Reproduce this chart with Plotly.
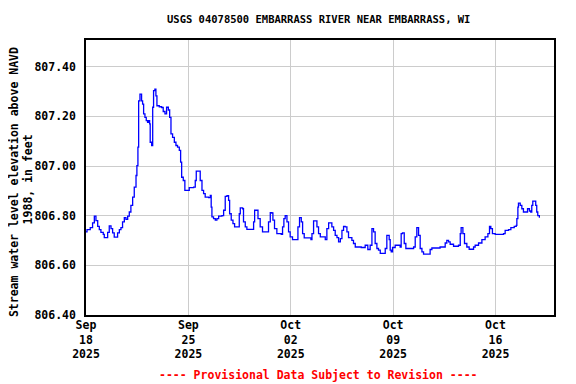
import pandas as pd
import plotly.graph_objects as go

# Days since 2025-09-18 00:00
days = [0.00, 0.07, 0.23, 0.29, 0.45, 0.57, 0.68, 0.80, 0.91, 1.02, 1.18, 1.25, 1.41, 1.48, 1.59, 1.71, 1.82, 1.93, 2.05,
        2.16, 2.28, 2.39, 2.50, 2.62, 2.73, 2.85, 2.96, 3.07, 3.19, 3.30, 3.42, 3.48, 3.55, 3.60, 3.69, 3.80, 3.87, 3.94,
        4.03, 4.12, 4.21, 4.28, 4.35, 4.39, 4.49, 4.56, 4.62, 4.71, 4.78, 4.85, 5.01, 5.17, 5.28, 5.40, 5.51, 5.63, 5.72,
        5.81, 5.92, 6.04, 6.15, 6.26, 6.38, 6.47, 6.54, 6.65, 6.76, 6.95, 7.06, 7.36, 7.47, 7.54, 7.70, 7.81, 7.93, 8.04,
        8.15, 8.38, 8.50, 8.56, 8.61, 8.72, 8.84, 8.95, 9.07, 9.29, 9.41, 9.52, 9.64, 9.75, 9.82, 9.93, 10.05, 10.16,
        10.39, 10.48, 10.55, 10.71, 10.77, 10.89, 11.00, 11.34, 11.46, 11.53, 11.69, 11.76, 11.91, 12.07, 12.37, 12.48,
        12.60, 12.71, 12.78, 12.89, 13.05, 13.35, 13.44, 13.53, 13.62, 13.74, 13.85, 13.96, 14.12, 14.42, 14.49, 14.60,
        14.72, 14.81, 14.92, 15.38, 15.45, 15.56, 15.67, 15.79, 15.90, 16.02, 16.36, 16.47, 16.59, 16.70, 16.81, 16.93,
        17.04, 17.16, 17.27, 17.39, 17.50, 17.61, 17.72, 17.84, 17.95, 18.18, 18.29, 18.41, 18.82, 19.09, 19.27, 19.43,
        19.55, 19.66, 19.77, 19.89, 20.00, 20.12, 20.34, 20.46, 20.57, 20.73, 20.80, 20.87, 20.96, 21.14, 21.48, 21.55,
        21.64, 21.76, 21.87, 22.40, 22.51, 22.62, 22.74, 22.85, 22.97, 23.08, 23.47, 23.53, 23.65, 24.10, 24.21, 24.44,
        24.56, 24.67, 24.79, 24.90, 25.13, 25.47, 25.59, 25.65, 25.77, 25.88, 26.04, 26.20, 26.43, 26.50, 26.61, 26.84,
        27.07, 27.29, 27.48, 27.59, 27.68, 27.79, 27.98, 28.32, 28.55, 28.66, 28.89, 29.05, 29.28, 29.42, 29.46, 29.53,
        29.57, 29.69, 29.80, 29.91, 30.10, 30.19, 30.32, 30.41, 30.48, 30.55, 30.66, 30.75, 30.82, 30.89, 31.00]

elevation = [806.735, 806.744, 806.744, 806.752, 806.771, 806.798, 806.780, 806.757, 806.744, 806.733, 806.725, 806.712,
             806.712, 806.733, 806.759, 806.748, 806.731, 806.714, 806.714, 806.731, 806.744, 806.752, 806.775, 806.792,
             806.785, 806.798, 806.815, 806.842, 806.875, 806.915, 806.962, 807.002, 807.076, 807.263, 807.290, 807.263,
             807.250, 807.210, 807.196, 807.183, 807.176, 807.183, 807.170, 807.096, 807.083, 807.237, 807.304, 807.310,
             807.283, 807.243, 807.239, 807.236, 807.220, 807.210, 807.237, 807.226, 807.196, 807.130, 807.116, 807.096,
             807.083, 807.076, 807.063, 807.016, 806.955, 806.942, 806.902, 806.902, 806.913, 806.915, 806.942, 806.980,
             806.980, 806.942, 806.902, 806.889, 806.875, 806.873, 806.882, 806.835, 806.795, 806.788, 806.782, 806.788,
             806.798, 806.800, 806.822, 806.878, 806.881, 806.862, 806.808, 806.782, 806.768, 806.755, 806.755, 806.808,
             806.832, 806.828, 806.775, 806.755, 806.745, 806.745, 806.775, 806.822, 806.822, 806.788, 806.755, 806.735,
             806.735, 806.775, 806.812, 806.811, 806.782, 806.748, 806.728, 806.725, 806.755, 806.788, 806.800, 806.775,
             806.735, 806.715, 806.704, 806.704, 806.755, 806.792, 806.775, 806.728, 806.711, 806.704, 806.728, 806.779,
             806.779, 806.755, 806.728, 806.715, 806.704, 806.748, 806.771, 806.771, 806.755, 806.741, 806.721, 806.712,
             806.695, 806.708, 806.741, 806.757, 806.755, 806.735, 806.712, 806.701, 806.688, 806.674, 806.672, 806.681,
             806.664, 806.681, 806.748, 806.735, 806.688, 806.668, 806.661, 806.648, 806.648, 806.668, 806.721, 806.704,
             806.661, 806.654, 806.672, 806.681, 806.674, 806.728, 806.731, 806.688, 806.668, 806.674, 806.715, 806.752,
             806.721, 806.668, 806.654, 806.645, 806.645, 806.664, 806.670, 806.670, 806.674, 806.674, 806.690, 806.701,
             806.695, 806.685, 806.677, 806.681, 806.728, 806.752, 806.728, 806.688, 806.674, 806.665, 806.665, 806.674,
             806.681, 806.690, 806.704, 806.715, 806.728, 806.757, 806.748, 806.728, 806.725, 806.725, 806.728, 806.741,
             806.744, 806.752, 806.757, 806.761, 806.788, 806.835, 806.851, 806.842, 806.828, 806.815, 806.815, 806.828,
             806.819, 806.815, 806.842, 806.859, 806.859, 806.842, 806.815, 806.800, 806.792]

tick_dates = ["2025-09-18", "2025-09-25", "2025-10-02", "2025-10-09", "2025-10-16"]
tick_text = ["Sep<br>18<br>2025", "Sep<br>25<br>2025", "Oct<br>02<br>2025", "Oct<br>09<br>2025", "Oct<br>16<br>2025"]
y_ticks = [806.40, 806.60, 806.80, 807.00, 807.20, 807.40]
y_text = ["806.40", "806.60", "806.80", "807.00", "807.20", "807.40"]

start = pd.Timestamp("2025-09-18")
times = start + pd.to_timedelta(days, unit="D")

FONT = "DejaVu Sans Mono"

fig = go.Figure()
fig.add_trace(go.Scatter(x=times, y=elevation, mode="lines", line=dict(color="#0000FF", width=1.3, shape="hv"),
                         showlegend=False, hoverinfo="skip"))

axis_common = dict(showline=True, linecolor="black", linewidth=1.5, mirror=True, showgrid=True,
                   gridcolor="#CCCCCC", gridwidth=1, ticks="", zeroline=False, automargin=False,
                   tickfont=dict(family=FONT, size=11.5, color="black", weight=700))

title_font = dict(family=FONT, size=11.5, color="black", weight=700)

# The page body adds an 8 px offset; the figure size/margins compensate for it.
fig.update_layout(
    width=568, height=376,
    margin=dict(l=78, r=22, t=32, b=69, autoexpand=False),
    paper_bgcolor="white", plot_bgcolor="white",
    xaxis=dict(range=[start, pd.Timestamp("2025-10-20")], tickmode="array", ticklabelstandoff=-2,
               tickvals=pd.to_datetime(tick_dates), ticktext=tick_text, **axis_common),
    yaxis=dict(range=[806.40, 807.508], tickmode="array", tickvals=y_ticks, ticktext=y_text,
               ticklabelstandoff=6, **axis_common),
    annotations=[
        dict(text="USGS 04078500 EMBARRASS RIVER NEAR EMBARRASS, WI", xref="paper", yref="paper",
             x=0.497, y=1.0, yshift=21, xanchor="center", yanchor="middle", showarrow=False,
             font=dict(family=FONT, size=10.5, color="black", weight=700)),
        dict(text="Stream water level elevation above NAVD", xref="paper", yref="paper",
             x=-0.155, y=0.485, xanchor="center", yanchor="middle", textangle=-90, showarrow=False,
             font=title_font),
        dict(text="1988, in feet", xref="paper", yref="paper",
             x=-0.124, y=0.493, xanchor="center", yanchor="middle", textangle=-90, showarrow=False,
             font=title_font),
        dict(text="---- Provisional Data Subject to Revision ----", xref="paper", yref="paper",
             x=0.497, y=0, yshift=-60, xanchor="center", yanchor="middle", showarrow=False,
             font=dict(family=FONT, size=11.5, color="red", weight=700)),
    ],
)

fig.write_html("out.html")
